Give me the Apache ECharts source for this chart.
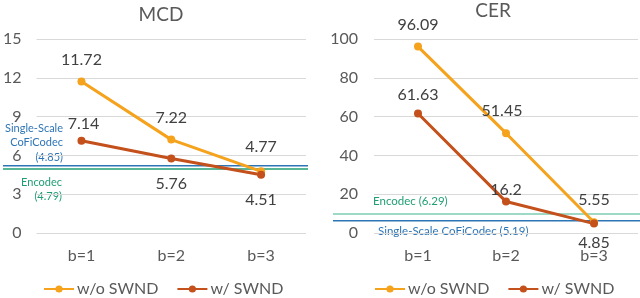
<!DOCTYPE html>
<html><head><meta charset="utf-8">
<script src="https://cdn.jsdelivr.net/npm/echarts@6/dist/echarts.min.js"></script>
<style>html,body{margin:0;padding:0;background:#fff}#c{width:640px;height:298px}</style>
</head><body><div id="c"></div>
<script>
const categories = ['b=1', 'b=2', 'b=3'];
const mcdWithout = [11.72, 7.22, 4.77];
const mcdWith = [7.14, 5.76, 4.51];
const cerWithout = [96.09, 51.45, 5.55];
const cerWith = [61.63, 16.2, 4.85];
const seriesNames = ['w/o SWND', 'w/ SWND'];
// reference baselines: labelled values and the levels at which the lines are drawn in the picture
const mcdRefLabels = ['Single-Scale\nCoFiCodec\n(4.85)', 'Encodec\n(4.79)'];
const mcdRefLevels = [5.2, 4.95];
const cerRefLabels = ['Single-Scale CoFiCodec (5.19)', 'Encodec (6.29)'];
const cerRefLevels = [6.3, 9.8];
const mcdTicks = {min: 0, max: 15, interval: 3};
const cerTicks = {min: 0, max: 100, interval: 20};

const FONT = 'Lato';
const TXT = '#595959';
const ORANGE = '#F5A21C';
const RUST = '#C4501B';
const BLUE = '#2E75B6';
const GREEN = '#1F9E73';
const GREEN_LIGHT = '#7DCDB1';

const chart = echarts.init(document.getElementById('c'), null, {renderer: 'canvas'});

function lbl(pos, dist, extra) {
  return Object.assign({show: true, position: pos, distance: dist, fontSize: 16, color: '#404040', fontFamily: FONT}, extra || {});
}
function mk(values, cfgs) {
  return values.map((v, i) => ({value: v, label: cfgs[i]}));
}
function lineSeries(name, data, color, xi, yi) {
  return {
    type: 'line', name: name, xAxisIndex: xi, yAxisIndex: yi, data: data,
    symbol: 'circle', symbolSize: 8, z: 5,
    lineStyle: {color: color, width: 3}, itemStyle: {color: color},
    animation: false
  };
}
function refSeries(level, color, xi, yi) {
  return {
    type: 'line', xAxisIndex: xi, yAxisIndex: yi, data: [[0, level], [1, level]],
    symbol: 'none', z: 1, silent: true,
    lineStyle: {color: color, width: 1.5}, animation: false
  };
}

const catAxis = (gi) => ({
  type: 'category', gridIndex: gi, data: categories, boundaryGap: true,
  axisLine: {show: false}, axisTick: {show: false},
  axisLabel: {fontSize: 16, color: TXT, fontFamily: FONT, margin: 15}
});
const valAxis = (gi, t, margin) => ({
  type: 'value', gridIndex: gi, min: t.min, max: t.max, interval: t.interval,
  axisLine: {show: false}, axisTick: {show: false},
  axisLabel: {fontSize: 16, color: TXT, fontFamily: FONT, margin: margin},
  splitLine: {lineStyle: {color: '#D9D9D9', width: 1}}
});
const hidX = (gi) => ({type: 'value', gridIndex: gi, min: 0, max: 1, show: false});
const hidY = (gi, t) => ({type: 'value', gridIndex: gi, min: t.min, max: t.max, show: false});

const legendText = {fontSize: 16, color: TXT, fontFamily: FONT, padding: [0, 0, 0, -2]};

const option = {
  backgroundColor: '#fff',
  animation: false,
  title: [
    {text: 'MCD', left: 156, top: 0, textAlign: 'center', textStyle: {fontSize: 19, fontWeight: 'normal', color: TXT, fontFamily: FONT}},
    {text: 'CER', left: 488, top: -4, textAlign: 'center', textStyle: {fontSize: 19, fontWeight: 'normal', color: TXT, fontFamily: FONT}}
  ],
  grid: [
    {left: 33, width: 273, top: 39, height: 194},
    {left: 374, width: 264, top: 39, height: 194},
    {left: 3, width: 305, top: 39, height: 194},
    {left: 333, width: 307, top: 39, height: 194}
  ],
  xAxis: [catAxis(0), catAxis(1), hidX(2), hidX(3)],
  yAxis: [valAxis(0, mcdTicks, 15), valAxis(1, cerTicks, 16), hidY(2, mcdTicks), hidY(3, cerTicks)],
  legend: [
    {data: seriesNames, left: 43, top: 281, padding: 0, itemWidth: 30, itemHeight: 9, itemGap: 18, textStyle: legendText},
    {data: seriesNames, left: 374, top: 281, padding: 0, itemWidth: 30, itemHeight: 9, itemGap: 18, textStyle: legendText}
  ],
  series: [
    refSeries(mcdRefLevels[0], BLUE, 2, 2),
    refSeries(mcdRefLevels[1], GREEN, 2, 2),
    refSeries(cerRefLevels[0], BLUE, 3, 3),
    refSeries(cerRefLevels[1], GREEN_LIGHT, 3, 3),
    lineSeries(seriesNames[0], mk(mcdWithout, [lbl('top', 10), lbl('top', 10), lbl('top', 12)]), ORANGE, 0, 0),
    lineSeries(seriesNames[1], mk(mcdWith, [lbl('top', 5, {offset: [2, 0]}), lbl('bottom', 13), lbl('bottom', 13)]), RUST, 0, 0),
    lineSeries(seriesNames[0], mk(cerWithout, [lbl('top', 10), lbl('top', 10, {offset: [-4, 0]}), lbl('top', 10)]), ORANGE, 1, 1),
    lineSeries(seriesNames[1], mk(cerWith, [lbl('top', 7), lbl('top', 0), lbl('bottom', 7)]), RUST, 1, 1)
  ],
  graphic: [
    {type: 'text', x: 63, y: 121, style: {text: mcdRefLabels[0], fill: BLUE, font: '11px ' + FONT, align: 'right', lineHeight: 14.5}},
    {type: 'text', x: 62, y: 176, style: {text: mcdRefLabels[1], fill: GREEN, font: '11px ' + FONT, align: 'right', lineHeight: 13.5}},
    {type: 'text', x: 373, y: 195, style: {text: cerRefLabels[1], fill: GREEN, font: '11.5px ' + FONT}},
    {type: 'text', x: 378, y: 225, style: {text: cerRefLabels[0], fill: BLUE, font: '11.5px ' + FONT}}
  ]
};
chart.setOption(option);
</script>
</body></html>
